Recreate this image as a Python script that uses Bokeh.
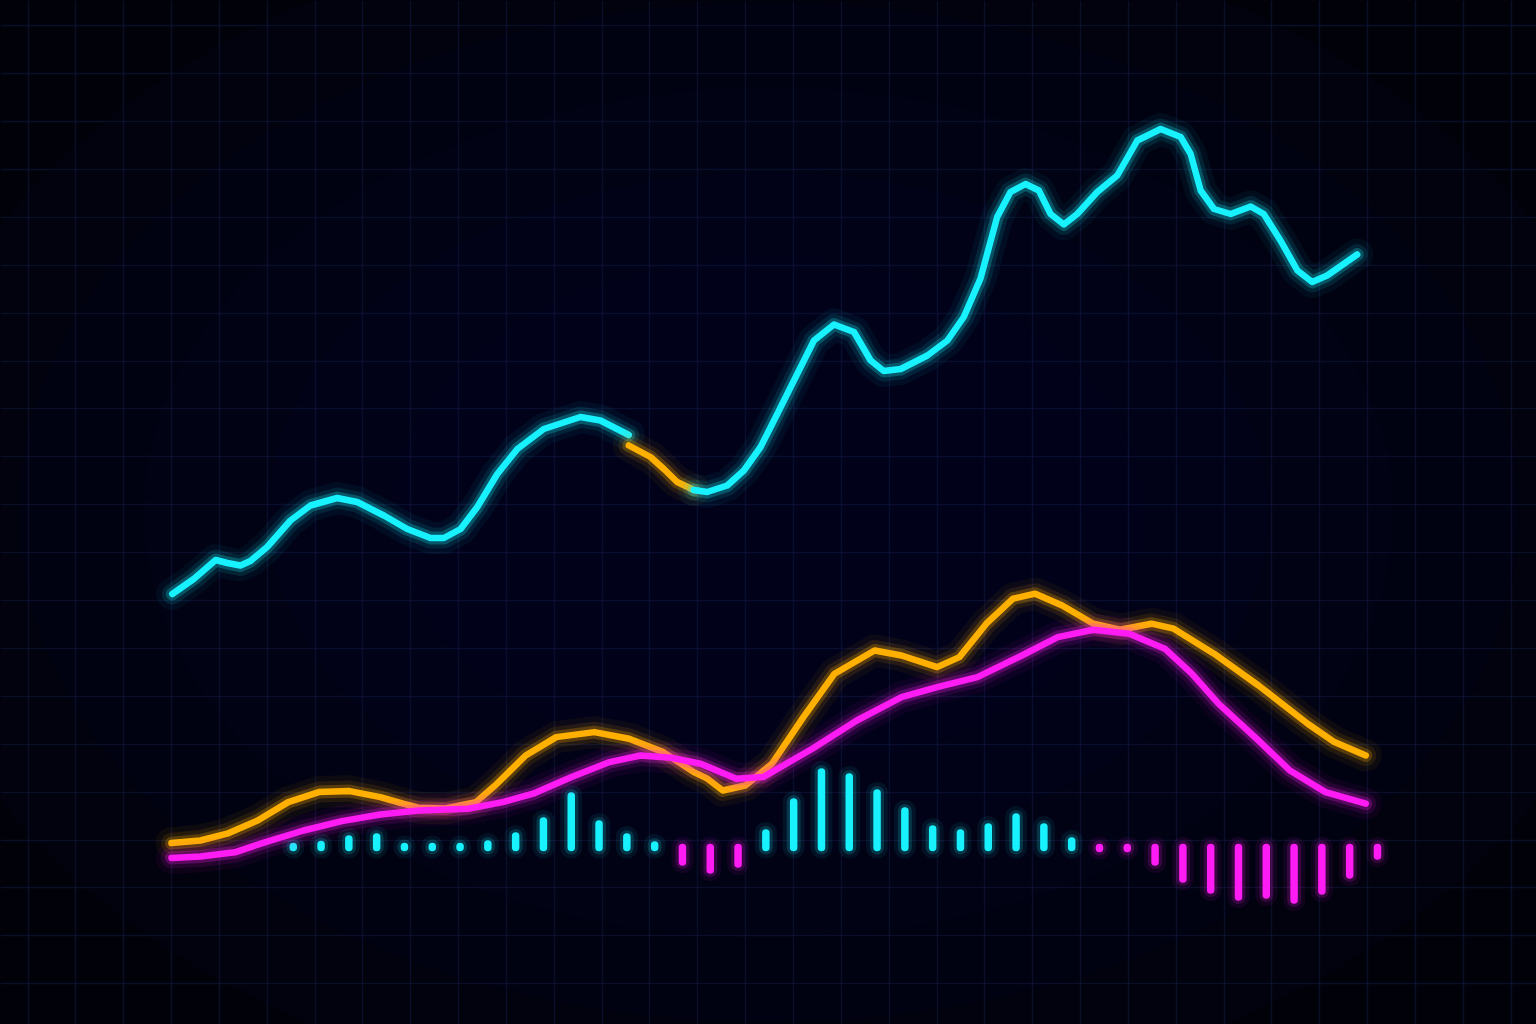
import numpy as np
from bokeh.plotting import figure
from bokeh.models import Range1d, FixedTicker, GlobalInlineStyleSheet
from bokeh.embed import file_html
from bokeh.resources import INLINE

# ---------------- data ----------------
# price line (trading day, price) - first leg, highlighted pullback, second leg
price_days_a = [-4.35, -3.58, -2.79, -2.37, -1.90, -1.54, -0.94, -0.10, 0.62, 1.58, 2.30, 3.26,
                4.10, 4.94, 5.42, 6.02, 6.62, 7.34, 8.06, 9.01, 10.33, 11.05, 11.65, 12.07]
price_a = [82.9, 85.9, 89.7, 89.1, 88.6, 89.5, 92.3, 97.6, 100.6, 102.1, 101.3, 98.6,
           95.9, 94.1, 94.1, 95.9, 100.3, 106.9, 111.9, 115.9, 118.3, 117.6, 115.9, 114.7]

pullback_days = [12.07, 12.85, 13.33, 13.81, 14.41]
pullback = [112.6, 110.3, 107.9, 105.3, 103.7]

price_days_b = [14.41, 14.89, 15.61, 16.21, 16.81, 17.41, 18.01, 18.73, 19.45, 20.17, 20.77, 21.24,
                21.85, 22.81, 23.53, 24.12, 24.72, 25.32, 25.80, 26.34, 26.82, 27.24, 27.72, 28.20,
                28.92, 29.64, 30.36, 31.20, 31.92, 32.28, 32.64, 33.12, 33.72, 34.44, 34.91, 35.51,
                36.12, 36.65, 37.19, 38.27]
price_b = [103.7, 103.3, 104.6, 107.6, 112.3, 118.9, 125.6, 133.6, 136.8, 135.3, 129.6, 127.5,
           127.9, 130.6, 133.6, 138.3, 146.0, 158.3, 163.3, 164.9, 163.6, 158.9, 156.8, 158.9,
           163.3, 166.6, 173.6, 175.9, 174.3, 170.9, 163.6, 159.9, 158.9, 160.4, 158.9, 153.6,
           147.6, 145.3, 146.6, 150.8]

# MACD line (orange)
macd_days = [-4.38, -3.34, -2.38, -1.28, -0.18, 0.92, 2.03, 3.13, 3.95, 4.50, 5.48, 6.57, 7.26,
             8.36, 9.46, 10.83, 12.08, 13.31, 14.41, 14.90, 15.45, 16.26, 17.22, 18.35, 19.47,
             20.91, 21.88, 23.16, 23.96, 24.93, 25.89, 26.69, 27.66, 28.78, 29.74, 30.87, 31.67,
             33.12, 34.72, 36.49, 37.45, 38.58]
macd = [2.2, 3.5, 6.9, 13.5, 22.7, 27.7, 28.2, 25.2, 21.9, 19.9, 19.5, 22.7, 31.0,
        46.0, 55.2, 57.7, 54.4, 47.7, 37.7, 34.4, 28.5, 31.0, 41.9, 65.2, 86.9,
        98.5, 96.0, 90.2, 95.2, 111.9, 124.4, 126.9, 121.0, 111.9, 108.9, 111.9, 109.4,
        96.9, 81.0, 61.9, 52.7, 46.0]

# signal line (magenta)
signal_days = [-4.38, -3.34, -2.10, -1.00, 0.37, 1.75, 3.13, 4.50, 6.29, 7.53, 8.63, 10.01,
               11.38, 12.49, 13.59, 14.65, 15.94, 16.90, 18.67, 20.27, 21.88, 23.16, 24.61,
               26.21, 27.50, 28.78, 30.07, 31.35, 32.32, 33.28, 34.72, 35.85, 37.13, 38.58]
signal = [-5.2, -4.5, -2.4, 2.7, 8.5, 13.2, 16.5, 18.5, 19.4, 22.7, 26.9, 35.2,
          42.7, 46.0, 44.9, 41.9, 34.4, 35.2, 49.4, 63.5, 75.2, 80.2, 85.2,
          96.0, 105.2, 108.9, 106.9, 99.4, 86.9, 71.9, 53.5, 38.5, 27.7, 21.9]

# histogram (one bar per day)
hist_days = list(range(40))
hist = [0.5, 1.5, 4.3, 5.3, 0.5, 0.5, 0.5, 1.8, 5.8, 13.3, 25.8, 11.8, 5.3, 1.3,
        -7.3, -11.3, -8.3,
        7.3, 22.8, 37.8, 35.3, 27.3, 18.3, 9.3, 7.3, 10.3, 15.3, 10.3, 3.3,
        -0.5, -0.5, -7.3, -15.8, -21.3, -24.8, -23.8, -26.3, -21.8, -13.8, -4.3]

# ---------------- style ----------------
CYAN = "#18F2FF"
ORANGE = "#FFB000"
MAGENTA = "#FF1CF4"
BG = "#010209"

p = figure(width=1536, height=1024,
           x_range=Range1d(-10.53, 44.72), y_range=Range1d(-3.2, 201.6),
           x_axis_location=None, y_axis_location=None,
           output_backend="svg", toolbar_location=None, min_border=0,
           background_fill_color=BG, border_fill_color=BG, outline_line_color=None)
p.extra_y_ranges = {"macd": Range1d(-88.5, 423.5)}
p.stylesheets = [GlobalInlineStyleSheet(css="html, body { background: #010209; margin: 0; }")]

# grid (decorative, ~48px squares)
p.xgrid.ticker = FixedTicker(ticks=list(-4.378 + 1.7209 * np.arange(-4, 30)))
p.ygrid.ticker = FixedTicker(ticks=list(81.6 - 9.58 * np.arange(-13, 10)))
p.grid.grid_line_color = "#131946"
p.grid.grid_line_alpha = 0.5
p.grid.grid_line_width = 1.5

# soft central glow (vignette)
cx = (p.x_range.start + p.x_range.end) / 2
cy = (p.y_range.start + p.y_range.end) / 2
for w, h in [(1750, 1200), (1500, 1020), (1250, 850), (1000, 680), (750, 510)]:
    p.ellipse(x=[cx], y=[cy], width=[w], height=[h], width_units="screen", height_units="screen",
              fill_color="#0a1045", fill_alpha=0.07, line_color=None)


def neon(xs, ys, color, rng="default", core=6.5):
    for w, a in [(32, 0.05), (21, 0.10), (13, 0.24)]:
        p.line(xs, ys, line_color=color, line_width=w, line_alpha=a,
               line_cap="round", line_join="round", y_range_name=rng)
    p.line(xs, ys, line_color=color, line_width=core,
           line_cap="round", line_join="round", y_range_name=rng)


# histogram bars
pos_x = [d for d, h in zip(hist_days, hist) if h >= 0]
pos_h = [h for h in hist if h >= 0]
neg_x = [d for d, h in zip(hist_days, hist) if h < 0]
neg_h = [h for h in hist if h < 0]
for xs, hs, col in [(pos_x, pos_h, CYAN), (neg_x, neg_h, MAGENTA)]:
    zeros = [0] * len(xs)
    for w, a in [(22, 0.07), (14, 0.16)]:
        p.segment(x0=xs, y0=zeros, x1=xs, y1=hs, line_color=col, line_width=w, line_alpha=a,
                  line_cap="round", y_range_name="macd")
    p.segment(x0=xs, y0=zeros, x1=xs, y1=hs, line_color=col, line_width=7.5,
              line_cap="round", y_range_name="macd")

# MACD & signal
neon(macd_days, macd, ORANGE, "macd", 6.5)
neon(signal_days, signal, MAGENTA, "macd", 6.5)

# price
neon(price_days_a, price_a, CYAN)
neon(pullback_days, pullback, ORANGE)
neon(price_days_b, price_b, CYAN)

open("out.html", "w").write(file_html(p, INLINE))
